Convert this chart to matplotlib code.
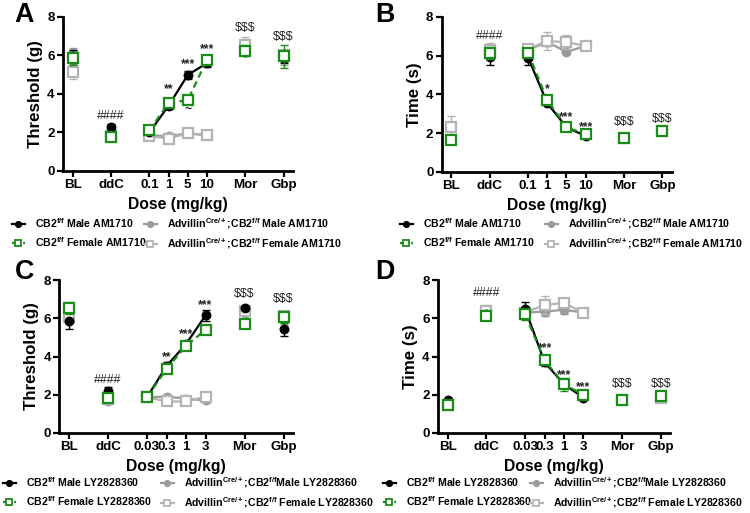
import matplotlib
matplotlib.use("Agg")
import matplotlib.pyplot as plt
from matplotlib.lines import Line2D
from matplotlib import font_manager
import numpy as np

_names = {f.name for f in font_manager.fontManager.ttflist}
NARROW = 'Liberation Sans Narrow' in _names
FAM = 'Liberation Sans Narrow' if NARROW else 'Liberation Sans'
SC = 1.0 if NARROW else 0.84   # size scale when narrow font missing

plt.rcParams['font.family'] = [FAM, 'DejaVu Sans']
plt.rcParams['font.weight'] = 'bold'
plt.rcParams['mathtext.fontset'] = 'custom'
plt.rcParams['mathtext.rm'] = FAM + ':bold'
plt.rcParams['mathtext.bf'] = FAM + ':bold'
plt.rcParams['mathtext.default'] = 'bf'

# ---------------- data ----------------
labels_AB = ["BL", "ddC", "0.1", "1", "5", "10", "Mor", "Gbp"]
labels_CD = ["BL", "ddC", "0.03", "0.3", "1", "3", "Mor", "Gbp"]

# Panel A: von Frey threshold (g), AM1710
A_wt_male = [5.9, 2.28, 2.0, 3.38, 4.98, 5.6, 6.2, 5.85]
A_wt_male_err = [0.4, 0.15, 0.1, 0.15, 0.2, 0.2, 0.2, 0.25]
A_wt_female = [5.85, 1.75, 2.1, 3.52, 3.68, 5.76, 6.25, 5.95]
A_wt_female_err = [0.35, 0.2, 0.1, 0.15, 0.1, 0.15, 0.3, 0.6]
A_ko_male = [6.1, 2.1, 1.85, 1.8, 1.95, 1.85, 6.4, 5.8]
A_ko_male_err = [0.3, 0.15, 0.1, 0.1, 0.1, 0.1, 0.3, 0.3]
A_ko_female = [5.15, 1.8, 1.8, 1.68, 1.95, 1.85, 6.55, 6.0]
A_ko_female_err = [0.4, 0.15, 0.1, 0.1, 0.1, 0.1, 0.4, 0.3]

# Panel B: acetone response time (s), AM1710
B_wt_male = [1.65, 5.95, 5.9, 3.55, 2.3, 1.85, 1.75, 2.1]
B_wt_male_err = [0.1, 0.45, 0.4, 0.1, 0.1, 0.1, 0.1, 0.1]
B_wt_female = [1.65, 6.15, 6.15, 3.7, 2.3, 1.95, 1.75, 2.1]
B_wt_female_err = [0.1, 0.3, 0.2, 0.15, 0.1, 0.1, 0.1, 0.1]
B_ko_male = [1.65, 6.2, 6.3, 6.7, 6.2, 6.5, 1.75, 2.1]
B_ko_male_err = [0.1, 0.3, 0.1, 0.2, 0.1, 0.1, 0.1, 0.1]
B_ko_female = [2.3, 6.3, 6.35, 6.75, 6.7, 6.5, 1.75, 2.1]
B_ko_female_err = [0.6, 0.35, 0.1, 0.45, 0.35, 0.1, 0.1, 0.1]

# Panel C: von Frey threshold (g), LY2828360
C_wt_male = [5.85, 2.2, 1.87, 3.5, 4.65, 6.15, 6.55, 5.45]
C_wt_male_err = [0.4, 0.2, 0.1, 0.2, 0.15, 0.3, 0.1, 0.4]
C_wt_female = [6.55, 1.85, 1.87, 3.35, 4.55, 5.4, 5.7, 6.05]
C_wt_female_err = [0.3, 0.15, 0.1, 0.2, 0.15, 0.1, 0.1, 0.3]
C_ko_male = [6.1, 1.65, 1.87, 1.9, 1.8, 1.7, 6.3, 5.9]
C_ko_male_err = [0.2, 0.1, 0.1, 0.1, 0.1, 0.1, 0.2, 0.2]
C_ko_female = [6.05, 1.8, 1.87, 1.65, 1.65, 1.9, 6.4, 6.1]
C_ko_female_err = [0.2, 0.1, 0.1, 0.1, 0.1, 0.1, 0.2, 0.2]

# Panel D: acetone response time (s), LY2828360
D_wt_male = [1.7, 6.2, 6.5, 3.7, 2.55, 1.85, 1.8, 1.95]
D_wt_male_err = [0.1, 0.2, 0.35, 0.2, 0.15, 0.1, 0.2, 0.1]
D_wt_female = [1.45, 6.1, 6.2, 3.8, 2.55, 2.0, 1.7, 1.95]
D_wt_female_err = [0.1, 0.2, 0.3, 0.2, 0.35, 0.1, 0.2, 0.15]
D_ko_male = [1.5, 6.3, 6.3, 6.35, 6.45, 6.3, 1.75, 1.85]
D_ko_male_err = [0.1, 0.3, 0.1, 0.25, 0.25, 0.25, 0.2, 0.1]
D_ko_female = [1.45, 6.4, 6.3, 6.7, 6.8, 6.3, 1.75, 1.85]
D_ko_female_err = [0.1, 0.3, 0.1, 0.45, 0.1, 0.2, 0.2, 0.1]

# annotations: (tick index, y value, text)
A_notes = [(1, 2.85, "####"), (3, 4.25, "**"), (4, 5.55, "***"), (5, 6.3, "***"),
           (4, 3.15, "~"), (6, 7.45, "$$$"), (7, 6.95, "$$$")]
B_notes = [(1, 7.0, "####"), (3, 4.25, "*"), (4, 2.85, "***"), (5, 2.3, "***"),
           (6, 2.55, "$$$"), (7, 2.75, "$$$")]
C_notes = [(1, 2.75, "####"), (3, 3.95, "**"), (4, 5.15, "***"), (5, 6.7, "***"),
           (6, 7.25, "$$$"), (7, 7.0, "$$$")]
D_notes = [(1, 7.35, "####"), (3, 4.45, "***"), (4, 3.0, "***"), (5, 2.4, "***"),
           (6, 2.55, "$$$"), (7, 2.55, "$$$")]

legend_AB = [r"CB2$^{f/f}$ Male AM1710", r"CB2$^{f/f}$ Female AM1710",
             r"Advillin$^{Cre/+}$;CB2$^{f/f}$ Male AM1710",
             r"Advillin$^{Cre/+}$;CB2$^{f/f}$ Female AM1710"]
legend_CD = [r"CB2$^{f/f}$ Male LY2828360", r"CB2$^{f/f}$ Female LY2828360",
             r"Advillin$^{Cre/+}$;CB2$^{f/f}$Male LY2828360",
             r"Advillin$^{Cre/+}$;CB2$^{f/f}$ Female LY2828360"]

# ---------------- layout / style ----------------
xpos = np.array([0, 2, 4, 5, 6, 7, 9, 11])
dose_idx = [2, 3, 4, 5]
W, H = 750.0, 513.0

styles = [
    dict(color='#000000', marker='o', ms=5.5, mfc='#000000', ls='-', zorder=6),
    dict(color='#1a8c1a', marker='s', ms=6.5, mfc='white', ls=(0, (3, 2)), zorder=7),
    dict(color='#9a9a9a', marker='o', ms=5.5, mfc='#9a9a9a', ls='-', zorder=4),
    dict(color='#b4b4b4', marker='s', ms=6.5, mfc='white', ls='-', zorder=5),
]

fig = plt.figure(figsize=(7.5, 5.13), dpi=100)

panels = [
    ("A", [0.084, 0.667, 0.307, 0.300], "Threshold (g)", labels_AB,
     [(A_wt_male, A_wt_male_err), (A_wt_female, A_wt_female_err),
      (A_ko_male, A_ko_male_err), (A_ko_female, A_ko_female_err)], A_notes, legend_AB,
     (12, 144), 216, (14, 15)),
    ("B", [0.589, 0.665, 0.307, 0.302], "Time (s)", labels_AB,
     [(B_wt_male, B_wt_male_err), (B_wt_female, B_wt_female_err),
      (B_ko_male, B_ko_male_err), (B_ko_female, B_ko_female_err)], B_notes, legend_AB,
     (400, 545), 216, (375, 15)),
    ("C", [0.079, 0.156, 0.312, 0.298], "Threshold (g)", labels_CD,
     [(C_wt_male, C_wt_male_err), (C_wt_female, C_wt_female_err),
      (C_ko_male, C_ko_male_err), (C_ko_female, C_ko_female_err)], C_notes, legend_CD,
     (3, 161), 475, (15, 272)),
    ("D", [0.584, 0.156, 0.310, 0.298], "Time (s)", labels_CD,
     [(D_wt_male, D_wt_male_err), (D_wt_female, D_wt_female_err),
      (D_ko_male, D_ko_male_err), (D_ko_female, D_ko_female_err)], D_notes, legend_CD,
     (383, 530), 475, (375, 272)),
]

for letter, rect, ylabel, xl, series, notes, leg, lx, ly, lp in panels:
    ax = fig.add_axes(rect)
    for (vals, errs), st in zip(series, styles):
        vals = np.asarray(vals)
        errs = np.asarray(errs)
        ax.errorbar(xpos, vals, yerr=errs, fmt='none', ecolor=st['color'],
                    elinewidth=1.0, capsize=3, capthick=1.0, zorder=st['zorder'] - 1)
        ax.plot(xpos[dose_idx], vals[dose_idx], color=st['color'], ls=st['ls'],
                lw=1.6, zorder=st['zorder'])
        ax.plot(xpos, vals, ls='none', marker=st['marker'], ms=st['ms'],
                mfc=st['mfc'], mec=st['color'], mew=1.6, zorder=st['zorder'])
    for i, yv, t in notes:
        fw = 'normal' if t.startswith('#') or t.startswith('$') else 'bold'
        ax.text(xpos[i], yv, t, ha='center', va='center', fontsize=10.5 * SC,
                fontweight=fw, color='#222222', zorder=10)
    ax.set_xlim(-0.5, 11.5)
    ax.set_ylim(0, 8)
    ax.set_yticks([0, 2, 4, 6, 8])
    ax.set_xticks(xpos)
    ax.set_xticklabels(xl)
    for s in ['top', 'right']:
        ax.spines[s].set_visible(False)
    for s in ['left', 'bottom']:
        ax.spines[s].set_linewidth(2.0)
    ax.tick_params(axis='both', width=1.6, length=4, labelsize=11.5 * SC, pad=2)
    for lab in ax.get_xticklabels() + ax.get_yticklabels():
        lab.set_fontweight('bold')
    ax.set_ylabel(ylabel, fontsize=14.5 * SC, fontweight='bold', labelpad=3)
    ax.set_xlabel("Dose (mg/kg)", fontsize=13.5 * SC, fontweight='bold', labelpad=4)
    fig.text(lp[0] / W, 1 - lp[1] / H, letter, fontsize=23 * SC,
             fontweight='bold', ha='left', va='center')

    handles = []
    for st in styles:
        handles.append(Line2D([], [], color=st['color'], ls=st['ls'], lw=1.6,
                              marker=st['marker'], ms=st['ms'] * 0.7,
                              mfc=st['mfc'], mec=st['color'], mew=1.3))
    for c in range(2):
        fig.legend(handles[2 * c:2 * c + 2], leg[2 * c:2 * c + 2], loc='upper left',
                   bbox_to_anchor=(lx[c] / W, 1 - ly / H), ncol=1, frameon=False,
                   handlelength=1.2, handletextpad=1.0, labelspacing=0.5,
                   borderaxespad=0, borderpad=0,
                   prop={'weight': 'bold', 'size': 9 * SC, 'family': [FAM, 'DejaVu Sans']})

fig.savefig("out.png", dpi=100)
